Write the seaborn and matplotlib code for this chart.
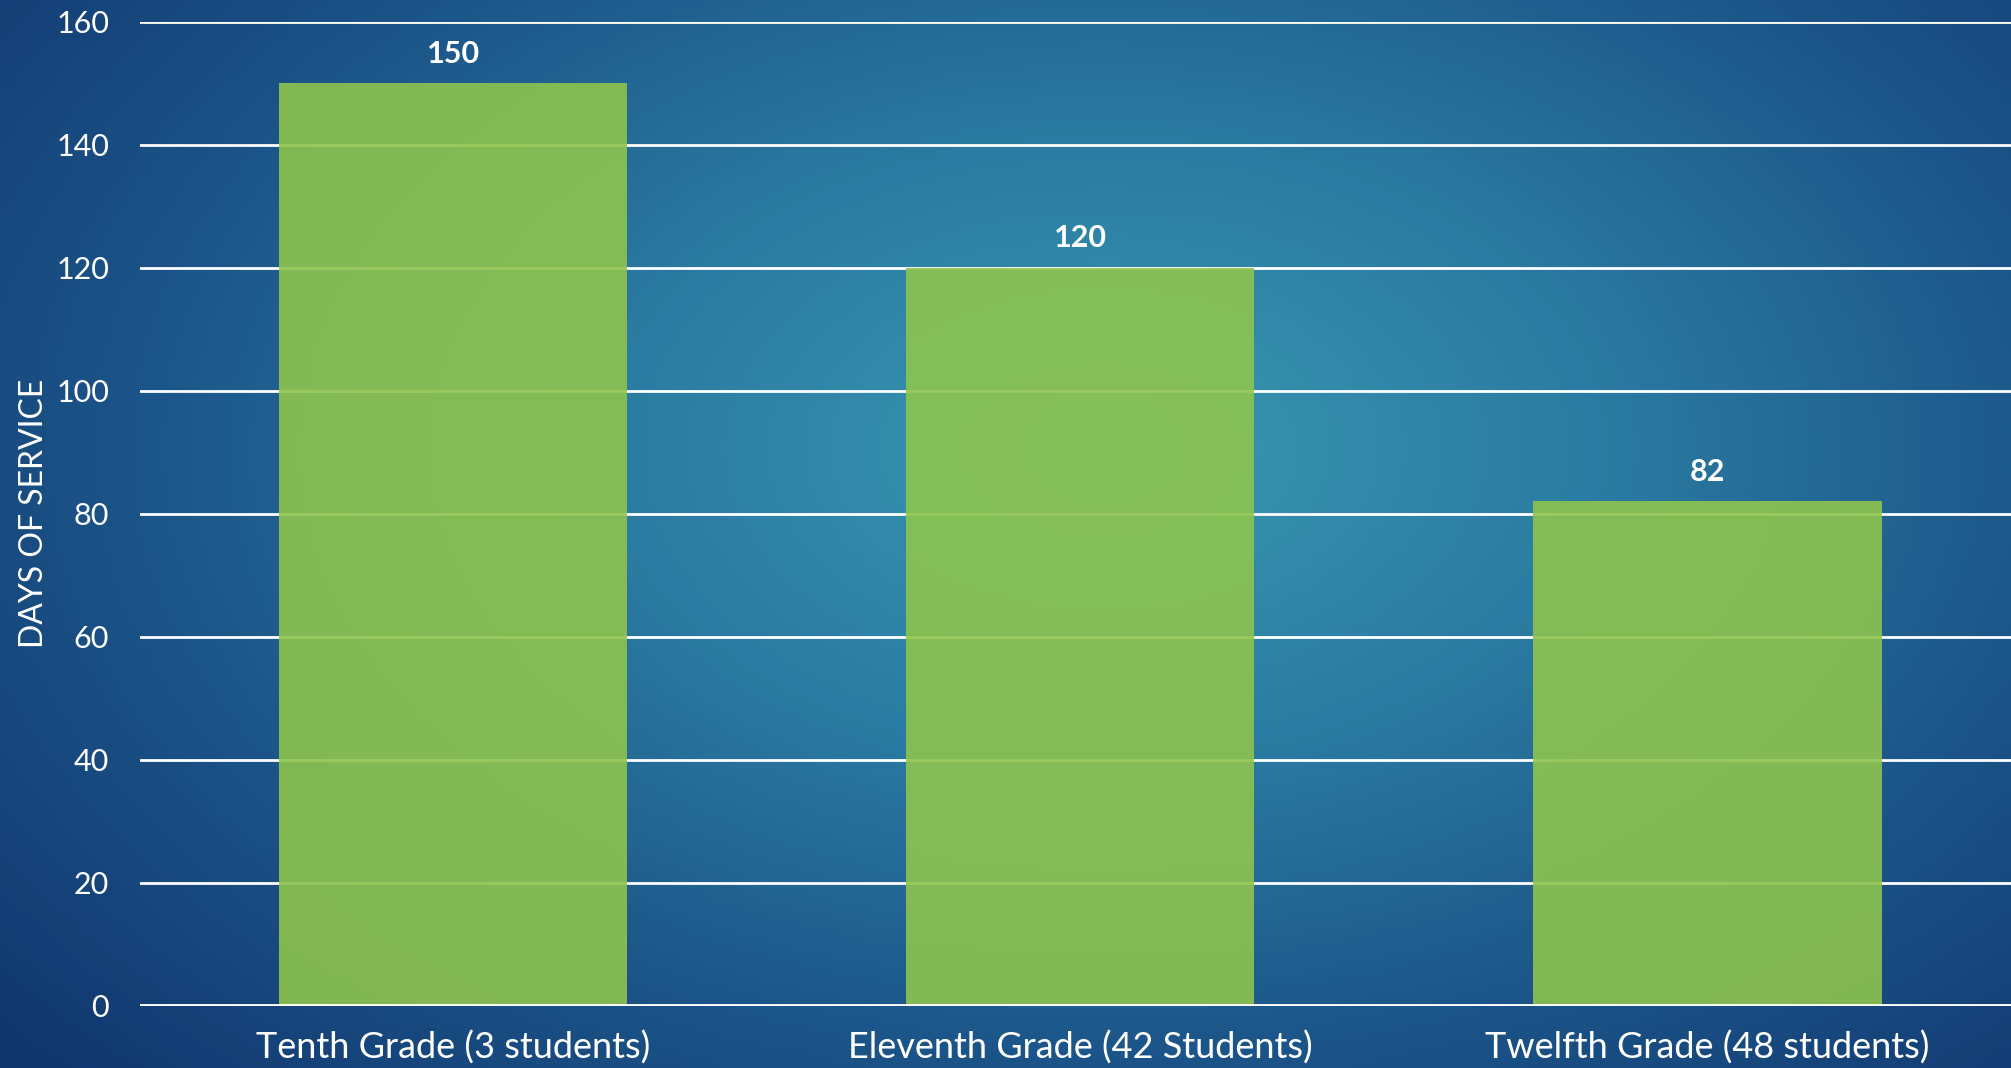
import numpy as np
import pandas as pd
import matplotlib.pyplot as plt
import seaborn as sns
from matplotlib.colors import LinearSegmentedColormap

# ---- data ----
grades = ['Tenth Grade (3 students)', 'Eleventh Grade (42 Students)', 'Twelfth Grade (48 students)']
days = [150, 120, 82]

df = pd.DataFrame({'grade': grades, 'days': days})

sns.set_theme(style='white')
plt.rcParams['font.family'] = ['Lato', 'DejaVu Sans']

fig = plt.figure(figsize=(20.11, 10.68), dpi=100)

# background radial gradient
bg = fig.add_axes([0, 0, 1, 1])
bg.set_axis_off()
xx, yy = np.meshgrid(np.linspace(0, 1, 400), np.linspace(0, 1, 220))
dist = np.sqrt(((xx - 0.55) / 0.72) ** 2 + ((yy - 0.42) / 0.85) ** 2)
cmap = LinearSegmentedColormap.from_list('bg', ['#3a98b2', '#2b7ca2', '#1c5589', '#11376f'])
bg.imshow(np.clip(dist, 0, 1), cmap=cmap, aspect='auto', extent=[0, 1, 0, 1], origin='upper')
bg.set_xlim(0, 1)
bg.set_ylim(0, 1)

ax = fig.add_axes([139.8 / 2011, 62.5 / 1068, 1 - 139.8 / 2011, 983.7 / 1068])
ax.patch.set_alpha(0)

sns.barplot(data=df, x='grade', y='days', color='#8ec44e', alpha=0.9,
            width=0.555, saturation=1, linewidth=0, edgecolor='none', ax=ax, zorder=3)

ax.set_ylim(0, 160)
ax.set_xlim(-0.5, 2.484)
ax.set_yticks(range(0, 161, 20))
for v in range(20, 161, 20):
    ax.axhline(v, color='white', lw=2, zorder=1)
ax.axhline(0, color='white', lw=3.5, zorder=4)

for s in ax.spines.values():
    s.set_visible(False)
ax.tick_params(axis='both', length=0, labelcolor='white')
ax.tick_params(axis='y', labelsize=22, pad=22)
ax.tick_params(axis='x', labelsize=26, pad=18)

ax.set_xlabel('')
ax.set_ylabel('DAYS OF SERVICE', color='white', fontsize=23, labelpad=5)

for i, v in enumerate(days):
    ax.annotate(str(v), (i, v), xytext=(0, 11), textcoords='offset points',
                ha='center', va='bottom', color='white', fontsize=22, fontweight='bold')

fig.savefig('out.png', dpi=100)
